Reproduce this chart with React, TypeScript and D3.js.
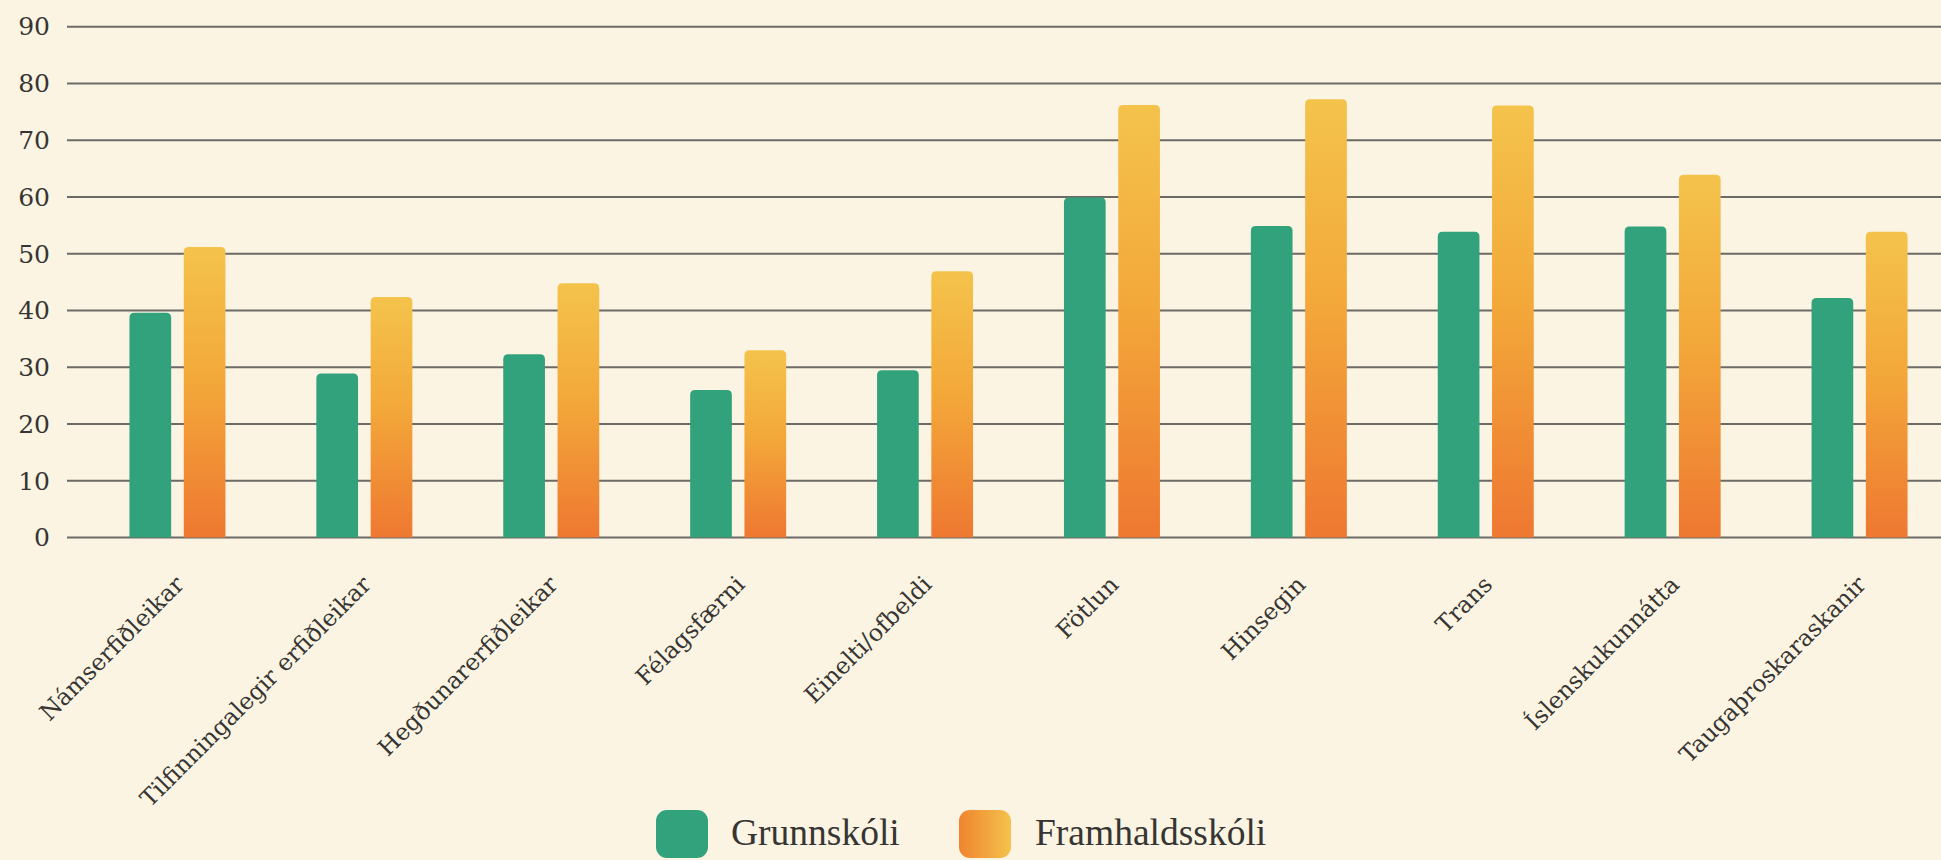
import React from 'react';
import * as d3 from 'd3';

const width = 1941;
const height = 860;

const categories = [
  'Námserfiðleikar',
  'Tilfinningalegir erfiðleikar',
  'Hegðunarerfiðleikar',
  'Félagsfærni',
  'Einelti/ofbeldi',
  'Fötlun',
  'Hinsegin',
  'Trans',
  'Íslenskukunnátta',
  'Taugaþroskaraskanir',
];
const seriesNames = ['Grunnskóli', 'Framhaldsskóli'];
const grunnskoli = [39.6, 28.9, 32.3, 26, 29.5, 59.9, 54.9, 53.9, 54.8, 42.2];
const framhaldsskoli = [51.2, 42.4, 44.8, 33, 46.9, 76.2, 77.2, 76.1, 63.9, 53.9];
const yTicks = [0, 10, 20, 30, 40, 50, 60, 70, 80, 90];

const bg = '#fbf4e2';
const green = '#32a27c';
const textColor = '#363533';

// bar with rounded top corners only
function topRounded(x: number, y: number, w: number, h: number, r: number) {
  const rr = Math.min(r, h, w / 2);
  return `M${x},${y + h}V${y + rr}Q${x},${y} ${x + rr},${y}H${x + w - rr}Q${x + w},${y} ${x + w},${y + rr}V${y + h}Z`;
}

export default function App() {
  const x = d3.scaleBand<string>().domain(categories).range([84, 1953]);
  const xSub = d3.scaleBand<string>().domain(seriesNames).range([-48, 48]).paddingInner(0.232);
  const y = d3.scaleLinear().domain([0, 90]).range([537.6, 26.7]);

  const rows = categories.map((c, i) => ({ c, vals: [grunnskoli[i], framhaldsskoli[i]] }));

  return (
    <svg width={width} height={height} style={{ position: 'absolute', left: 0, top: 0, background: bg }}>
      <defs>
        <linearGradient id="barGrad" x1="0" y1="0" x2="0" y2="1">
          <stop offset="0%" stopColor="#f4c34b" />
          <stop offset="45%" stopColor="#f3a93a" />
          <stop offset="100%" stopColor="#ee7831" />
        </linearGradient>
        <linearGradient id="legGrad" x1="0" y1="0" x2="1" y2="0">
          <stop offset="0%" stopColor="#f0842f" />
          <stop offset="100%" stopColor="#f4c24b" />
        </linearGradient>
      </defs>
      <rect width={width} height={height} fill={bg} />

      <g className="grid">
        {yTicks.map(t => (
          <g key={t}>
            <line x1={67} x2={width} y1={y(t)} y2={y(t)} stroke="#6c6a66" strokeWidth={2} />
            <text x={50} y={y(t)} dy="0.35em" textAnchor="end" fontFamily="DejaVu Serif" fontSize={25} fill={textColor}>
              {t}
            </text>
          </g>
        ))}
      </g>

      <g className="bars">
        {rows.map(r => {
          const cx = x(r.c)! + x.bandwidth() / 2;
          return (
            <g key={r.c}>
              {r.vals.map((v, j) => {
                const bx = cx + xSub(seriesNames[j])!;
                const by = y(v);
                return (
                  <path
                    key={j}
                    d={topRounded(bx, by, xSub.bandwidth(), y(0) - by, 5)}
                    fill={j === 0 ? green : 'url(#barGrad)'}
                  />
                );
              })}
            </g>
          );
        })}
      </g>

      <g className="labels">
        {categories.map(c => {
          const cx = x(c)! + x.bandwidth() / 2;
          return (
            <text
              key={c}
              transform={`translate(${cx + 8},${586}) rotate(-45)`}
              textAnchor="end"
              fontFamily="DejaVu Serif"
              fontSize={23.5}
              fill={textColor}
            >
              {c}
            </text>
          );
        })}
      </g>

      <g className="legend">
        <rect x={656} y={810} width={52} height={48} rx={11} fill={green} />
        <text x={731} y={845} fontFamily="Liberation Serif" fontSize={37.5} fill={textColor}>
          {seriesNames[0]}
        </text>
        <rect x={959} y={810} width={52} height={48} rx={11} fill="url(#legGrad)" />
        <text x={1035} y={845} fontFamily="Liberation Serif" fontSize={37.5} fill={textColor}>
          {seriesNames[1]}
        </text>
      </g>
    </svg>
  );
}
